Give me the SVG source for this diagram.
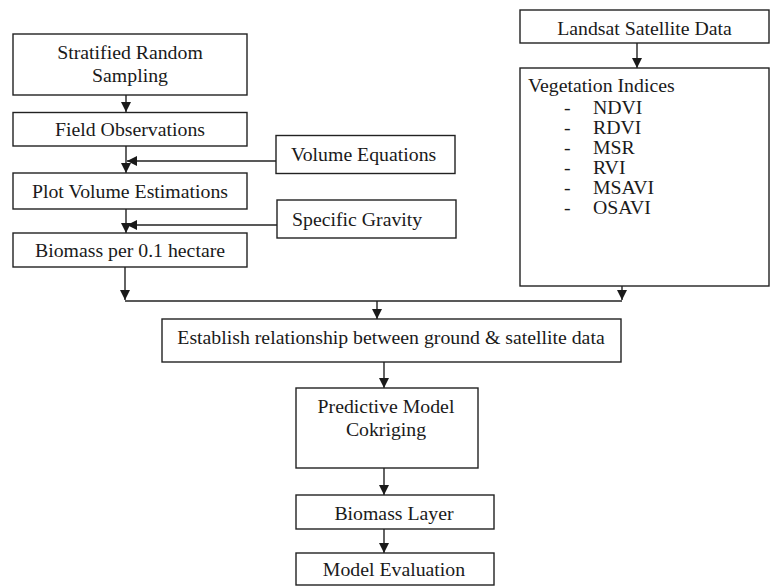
<svg xmlns="http://www.w3.org/2000/svg" width="771" height="586" viewBox="0 0 771 586">
<style>
rect.b{fill:#fff;stroke:#222;stroke-width:1.4}
text{font-family:"Liberation Serif","Times New Roman",serif;font-size:19.8px;fill:#1a1a1a}
text.c{text-anchor:middle}
.ln{stroke:#222;stroke-width:1.4;fill:none}
</style>
<defs>
<marker id="ah" viewBox="0 0 10 10" refX="10" refY="5" markerWidth="10" markerHeight="10" markerUnits="userSpaceOnUse" orient="auto">
<path d="M0,0 L10,5 L0,10 Z" fill="#1a1a1a"/>
</marker>
</defs>
<rect width="771" height="586" fill="#fff"/>
<g id="connectors">
<line class="ln" x1="126" y1="95" x2="126" y2="112" marker-end="url(#ah)"/>
<line class="ln" x1="126" y1="146" x2="126" y2="173" marker-end="url(#ah)"/>
<line class="ln" x1="276" y1="161" x2="127" y2="161" marker-end="url(#ah)"/>
<line class="ln" x1="126" y1="209" x2="126" y2="233" marker-end="url(#ah)"/>
<line class="ln" x1="277" y1="225" x2="127" y2="225" marker-end="url(#ah)"/>
<line class="ln" x1="125" y1="267" x2="125" y2="300" marker-end="url(#ah)"/>
<line class="ln" x1="637" y1="43" x2="637" y2="68" marker-end="url(#ah)"/>
<line class="ln" x1="622" y1="286" x2="622" y2="300" marker-end="url(#ah)"/>
<line class="ln" x1="125" y1="301" x2="622" y2="301"/>
<line class="ln" x1="377" y1="301" x2="377" y2="319" marker-end="url(#ah)"/>
<line class="ln" x1="384" y1="362" x2="384" y2="388" marker-end="url(#ah)"/>
<line class="ln" x1="384" y1="468" x2="384" y2="495" marker-end="url(#ah)"/>
<line class="ln" x1="384" y1="529" x2="384" y2="553" marker-end="url(#ah)"/>
</g>
<g id="stratified">
<rect class="b" x="13" y="34" width="234" height="61"/>
<text class="c" x="130" y="59">Stratified Random</text>
<text class="c" x="130" y="82">Sampling</text>
</g>
<g id="field">
<rect class="b" x="13" y="112.5" width="234" height="33.5"/>
<text class="c" x="130" y="136">Field Observations</text>
</g>
<g id="plot">
<rect class="b" x="13" y="173" width="234" height="36"/>
<text class="c" x="130" y="198">Plot Volume Estimations</text>
</g>
<g id="biomass01">
<rect class="b" x="13" y="233" width="234" height="34"/>
<text class="c" x="130" y="257">Biomass per 0.1 hectare</text>
</g>
<g id="volume">
<rect class="b" x="276" y="135.5" width="179" height="38"/>
<text x="291" y="161">Volume Equations</text>
</g>
<g id="gravity">
<rect class="b" x="277" y="200" width="179" height="38"/>
<text x="292" y="226">Specific Gravity</text>
</g>
<g id="landsat">
<rect class="b" x="520" y="10" width="249" height="33"/>
<text class="c" x="644.5" y="35">Landsat Satellite Data</text>
</g>
<g id="vegetation">
<rect class="b" x="520" y="68" width="249" height="218"/>
<text x="528" y="92">Vegetation Indices</text>
<text x="564" y="114">-</text><text x="593" y="114">NDVI</text>
<text x="564" y="134">-</text><text x="593" y="134">RDVI</text>
<text x="564" y="154">-</text><text x="593" y="154">MSR</text>
<text x="564" y="174">-</text><text x="593" y="174">RVI</text>
<text x="564" y="194">-</text><text x="593" y="194">MSAVI</text>
<text x="564" y="214">-</text><text x="593" y="214">OSAVI</text>
</g>
<g id="establish">
<rect class="b" x="162" y="319" width="459" height="43"/>
<text class="c" x="391" y="344">Establish relationship between ground &amp; satellite data</text>
</g>
<g id="predictive">
<rect class="b" x="296" y="388" width="182" height="80"/>
<text class="c" x="386" y="413">Predictive Model</text>
<text class="c" x="386" y="436">Cokriging</text>
</g>
<g id="biomasslayer">
<rect class="b" x="296" y="495" width="198" height="34"/>
<text class="c" x="394" y="520">Biomass Layer</text>
</g>
<g id="evaluation">
<rect class="b" x="296" y="553" width="198" height="32"/>
<text class="c" x="394" y="576">Model Evaluation</text>
</g>
</svg>
